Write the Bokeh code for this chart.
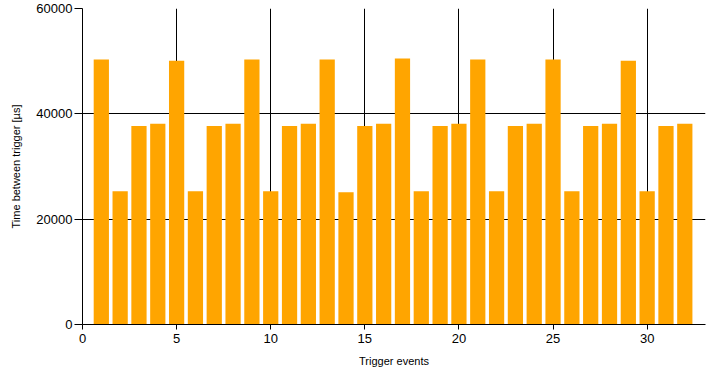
from bokeh.plotting import figure
from bokeh.models import Range1d, FixedTicker
from bokeh.embed import file_html
from bokeh.resources import INLINE

events = list(range(1, 33))
times = [50300, 25300, 37700, 38100,
         50100, 25300, 37700, 38100,
         50300, 25300, 37700, 38100,
         50300, 25100, 37700, 38100,
         50500, 25300, 37700, 38100,
         50300, 25300, 37700, 38100,
         50300, 25300, 37700, 38100,
         50100, 25300, 37700, 38100]
x_ticks = [0, 5, 10, 15, 20, 25, 30]
y_ticks = [0, 20000, 40000, 60000]

p = figure(width=710, height=379, output_backend="svg", toolbar_location=None,
           x_range=Range1d(0, 33.1), y_range=Range1d(0, 60000),
           min_border_left=82, min_border_right=5, min_border_top=8, min_border_bottom=55)
p.outline_line_color = None
p.background_fill_color = "white"
p.border_fill_color = "white"

p.vbar(x=events, top=times, width=0.81, color="#FFA500", line_color=None)

font = "Liberation Sans"
for ax in (p.xaxis[0], p.yaxis[0]):
    ax.axis_line_color = "black"
    ax.major_tick_line_color = "black"
    ax.minor_tick_line_color = None
    ax.major_tick_in = 0
    ax.major_label_text_font = font
    ax.major_label_text_font_size = "13px"
    ax.major_label_text_color = "black"
    ax.axis_label_text_font = font
    ax.axis_label_text_font_size = "11px"
    ax.axis_label_text_font_style = "normal"
    ax.axis_label_text_color = "black"

p.xaxis.ticker = FixedTicker(ticks=x_ticks)
p.yaxis.ticker = FixedTicker(ticks=y_ticks)
p.xaxis.major_tick_out = 5
p.yaxis.major_tick_out = 8
p.xaxis.major_label_standoff = 4
p.yaxis.major_label_standoff = 2
p.xaxis.axis_label = "Trigger events"
p.yaxis.axis_label = "Time between trigger [µs]"
p.xaxis.axis_label_standoff = 9
p.yaxis.axis_label_standoff = 11

p.xgrid.ticker = FixedTicker(ticks=[5, 10, 15, 20, 25, 30])
p.ygrid.ticker = FixedTicker(ticks=[20000, 40000, 60000])
p.grid.grid_line_color = "black"
p.grid.grid_line_width = 1

open("out.html", "w").write(file_html(p, INLINE))
